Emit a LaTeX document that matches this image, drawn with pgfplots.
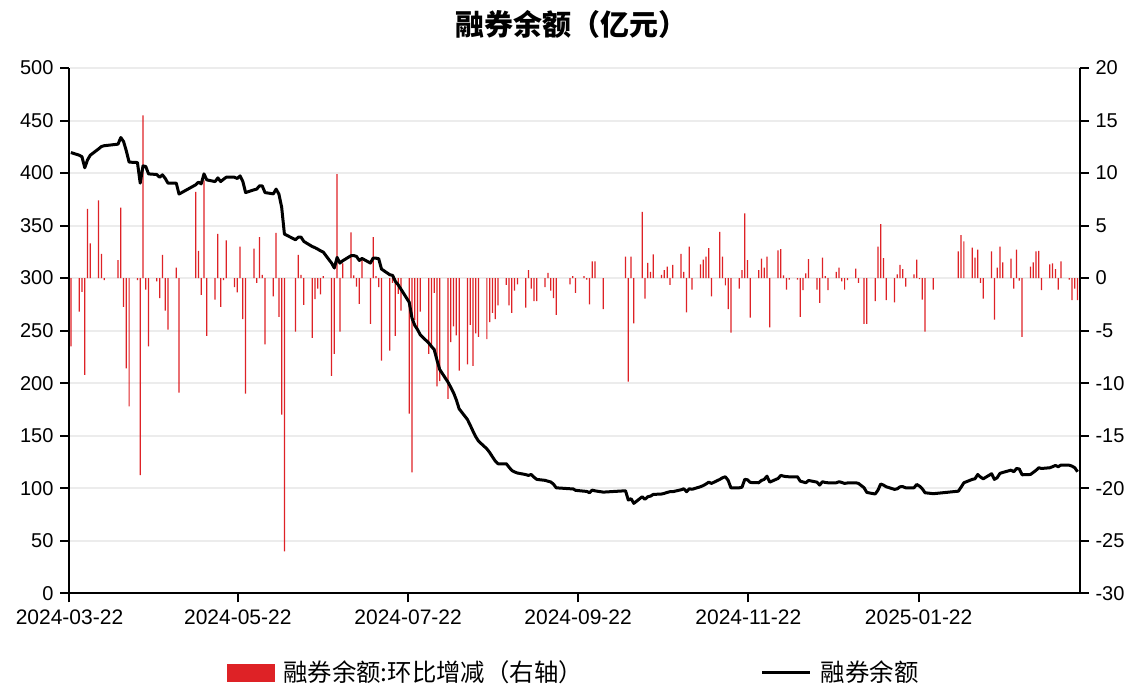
\documentclass[border=0pt]{standalone}
\usepackage{pgfplots}
\pgfplotsset{compat=1.18}
\usepackage{fontspec}
\setmainfont{Liberation Sans}
\newfontfamily\cjk{Noto Sans CJK SC}
\definecolor{barred}{RGB}{222,34,38}
\definecolor{gridgray}{RGB}{236,236,236}
\begin{document}
\begin{tikzpicture}
\useasboundingbox (-34.75pt,-47.35pt) rectangle (528.75pt,296.65pt);
% ---------- right axis: daily change (bars) ----------
\begin{axis}[
  at={(0,0)}, anchor=south west, scale only axis,
  width=505pt, height=262.65pt,
  xmin=-0.5, xmax=363.7, ymin=-30, ymax=20,
  axis y line*=right, axis x line=none, xtick=\empty,
  ytick={-30,-25,...,20},
  ymajorgrids, grid style={gridgray, line width=1pt},
  tick align=outside, major tick length=4.5pt,
  axis line style={line width=1pt},
  every tick/.style={black, line width=1pt},
  /pgf/number format/assume math mode=true,
  yticklabel style={font=\fontsize{10}{12}\selectfont},
]
\addplot[ybar, bar width=0.45, fill=barred, draw=none] coordinates {
(0,-6.5) (3,-3.2) (4,-1.3) (5,-9.2) (6,6.6) (7,3.3) (10,7.4) (11,2.3) (12,-0.2)
(17,1.7) (18,6.7) (19,-2.75) (20,-8.6) (21,-12.2) (24,-0.2) (25,-18.75) (26,15.5)
(27,-1.1) (28,-6.5) (31,-0.3) (32,-1.9) (33,2.2) (34,-3.1) (35,-4.9) (38,1.0)
(39,-10.9) (45,8.2) (46,2.6) (47,-1.6) (48,9.3) (49,-5.5) (52,-2.05) (53,4.2)
(54,-2.75) (55,-0.2) (56,3.6) (59,-0.85) (60,-1.35) (61,3.0) (62,-3.9) (63,-11.0)
(66,2.8) (67,-0.45) (68,3.9) (69,0.3) (70,-6.3) (73,-1.75) (74,4.3) (75,-3.7)
(76,-13.0) (77,-26.0) (81,-5.1) (82,2.2) (83,0.3) (84,-2.55) (87,-5.7) (88,-2.0)
(89,-1.0) (90,-1.55) (91,0.2) (94,-9.3) (95,-7.2) (96,9.9) (97,-5.1) (98,1.4)
(101,4.35) (102,0.25) (103,-0.8) (104,-2.45) (105,1.7) (108,-4.35) (109,3.9)
(110,0.2) (111,-0.85) (112,-7.85) (115,-6.9) (116,-0.45) (117,-5.5) (118,-1.5)
(119,-3.1) (122,-12.9) (123,-18.5) (124,-4.0) (125,-4.8) (126,-3.2) (129,-7.2)
(130,-6.65) (131,-1.4) (132,-10.3) (133,-9.8) (136,-11.5) (137,-6.1) (138,-4.6)
(139,-5.45) (140,-8.8) (143,-8.2) (144,-4.45) (145,-8.35) (146,-5.25) (147,-5.6)
(150,-5.8) (151,-4.2) (152,-3.3) (153,-3.9) (154,-2.6) (157,-0.65) (158,-2.6)
(159,-3.3) (160,-1.2) (161,-0.6) (164,-2.8) (165,0.75) (166,-1.0) (167,-2.2)
(168,-2.2) (171,-0.85) (172,0.5) (173,-1.2) (174,-1.9) (175,-3.5) (180,-0.6)
(181,0.2) (182,-1.4) (185,0.2) (186,-0.15) (187,-2.5) (188,1.6) (189,1.6)
(192,-2.95) (200,2.05) (201,-9.85) (202,2.05) (203,-4.3) (206,6.3) (207,-1.95)
(208,1.45) (209,0.6) (210,2.25) (213,0.3) (214,0.75) (215,1.1) (216,-0.65)
(217,1.25) (220,2.3) (221,0.6) (222,-3.25) (223,3.0) (224,-1.1) (227,1.3)
(228,1.75) (229,2.05) (230,2.85) (231,-1.75) (234,4.4) (235,2.05) (236,-0.7)
(237,-2.95) (238,-5.2) (241,-1.0) (242,0.75) (243,6.15) (244,1.7) (245,-3.75)
(248,0.75) (249,1.85) (250,1.0) (251,2.05) (252,-4.7) (255,2.65) (256,2.75)
(257,0.25) (258,-1.1) (259,-0.15) (262,-0.15) (263,-3.7) (264,-1.15) (265,0.45)
(266,1.8) (269,-1.1) (270,-2.35) (271,1.95) (272,0.2) (273,-1.15) (276,0.6)
(277,1.0) (278,-0.3) (279,-1.1) (280,-0.2) (283,0.9) (284,-0.45) (286,-4.35)
(287,-4.35) (290,-2.2) (291,3.0) (292,5.15) (293,1.9) (294,-2.1) (297,-2.3)
(298,0.35) (299,1.25) (300,0.85) (301,-0.8) (304,0.35) (305,1.75) (306,-0.1)
(307,-2.05) (308,-5.1) (311,-1.1) (320,2.55) (321,4.1) (322,3.5) (325,2.9)
(326,1.95) (327,2.7) (328,-0.45) (329,-1.95) (332,2.55) (333,-3.95) (334,1.0)
(335,3.0) (336,1.5) (339,1.85) (340,-1.0) (341,2.7) (342,-0.25) (343,-5.6)
(346,1.1) (347,1.5) (348,2.55) (349,2.6) (350,-1.15) (353,1.3) (354,1.4)
(355,0.85) (356,-1.1) (357,1.6) (360,-0.15) (361,-2.1) (362,-1.0) (363,-2.1)
};
\end{axis}
% ---------- left axis: balance (line) ----------
\begin{axis}[
  at={(0,0)}, anchor=south west, scale only axis,
  width=505pt, height=262.65pt,
  xmin=-0.5, xmax=363.7, ymin=0, ymax=500,
  axis x line*=bottom, axis y line*=left,
  ytick={0,50,...,500},
  xtick={-0.5,60.2,121.6,182.9,244.3,305.7},
  xticklabels={2024-03-22,2024-05-22,2024-07-22,2024-09-22,2024-11-22,2025-01-22},
  tick align=outside, major tick length=4.5pt,
  axis line style={line width=1pt},
  every tick/.style={black, line width=1pt},
  /pgf/number format/assume math mode=true,
  yticklabel style={font=\fontsize{10}{12}\selectfont},
  xticklabel style={font=\fontsize{10.5}{12}\selectfont},
  title={\cjk\bfseries 融券余额（亿元）},
  title style={at={(0.497,1)}, anchor=center, yshift=16pt, font=\fontsize{14.5}{16}\selectfont},
  legend columns=2,
  legend style={at={(0.5,0)}, anchor=center, yshift=-39.85pt, draw=none, fill=none,
    font=\cjk\fontsize{12.2}{14}\selectfont,
    /tikz/every odd column/.append style={column sep=2.5pt},
    /tikz/every even column/.append style={column sep=87pt}},
]
\addlegendimage{legend image code/.code={\fill[barred] (0pt,-4.25pt) rectangle (23.5pt,4.25pt);}}
\addlegendentry{融券余额:环比增减（右轴）}
\addplot[black, line width=1.5pt, line join=round,
  legend image code/.code={\draw[black, line width=1.5pt] (0pt,0pt) -- (24pt,0pt);}] coordinates {
(0,419.5) (3,417) (4,415.5) (5,405) (6,412.5) (7,417) (10,423) (11,425.2) (12,426)
(17,427.5) (18,433.8) (19,430) (20,421) (21,410.4) (24,410) (25,390.4) (26,406.8)
(27,406.2) (28,399.2) (31,398.6) (32,396) (33,398.3) (34,395) (35,390.4) (38,390.4)
(39,380) (45,388.8) (46,391.3) (47,389.7) (48,399.2) (49,393.5) (52,391.9) (53,395.4)
(54,391.9) (55,394) (56,396) (59,396) (60,394.8) (61,397.3) (62,392) (63,381.4)
(66,384) (67,384.7) (68,387.8) (69,387.8) (70,381.4) (73,380.2) (74,384.7) (75,380)
(76,367.6) (77,341.9) (81,336.5) (82,339) (83,339) (84,334.9) (87,330.1) (88,329)
(89,327.6) (90,326) (91,324.8) (94,314.3) (95,309.6) (96,319.7) (97,314.3) (98,316.5)
(101,321.3) (102,321.5) (103,320.6) (104,316.8) (105,318.7) (108,314.3) (109,319.1)
(110,319) (111,318.4) (112,308.6) (115,303.2) (116,302.6) (117,296.9) (118,293.7)
(119,289.6) (122,277) (123,262) (124,255) (125,251) (126,246) (129,238.3) (130,235)
(131,232) (132,222) (133,213) (136,200.9) (137,196) (138,190.8) (139,184) (140,175.6)
(143,165.4) (144,160) (145,154.3) (146,149) (147,144.8) (150,137.5) (151,134)
(152,130) (153,126) (154,123.3) (157,123.3) (158,120) (159,116.9) (160,115.5)
(161,114.5) (164,113) (165,112.2) (166,113.1) (167,110.5) (168,108.4) (171,107.5)
(172,106.7) (173,106) (174,104) (175,100.4) (180,99.5) (181,99.5) (182,98)
(185,97.2) (186,97) (187,95.7) (188,98.2) (189,97.5) (192,96.3) (200,97.6)
(201,88.7) (202,90) (203,85.6) (206,91.9) (207,89.4) (208,91.9) (209,92.5)
(210,94.1) (213,94.5) (214,95.1) (215,96) (216,96.7) (217,96.7) (220,98.5)
(221,99.5) (222,96.7) (223,99.5) (224,99) (227,101.4) (228,102.5) (229,104)
(230,105.8) (231,104.6) (234,108.4) (235,110) (236,110.9) (237,107.5) (238,100.4)
(241,100.4) (242,101) (243,108.5) (244,108) (245,105.5) (248,105.2) (249,107.4)
(250,108.4) (251,111.5) (252,105.8) (255,109.3) (256,112.2) (257,111.5) (258,111)
(259,110.9) (262,110.9) (263,106.7) (264,106) (265,105.2) (266,107.4) (269,105.8)
(270,103) (271,106.2) (272,105.5) (273,105.2) (276,105.2) (277,106.2) (278,105.5)
(279,104.6) (280,105) (283,105.2) (284,104.6) (286,100.5) (287,96) (290,94.5)
(291,98) (292,104) (293,103) (294,101.4) (297,98.9) (298,99.5) (299,101.4)
(300,101.5) (301,100.4) (304,100.4) (305,103.6) (306,102) (307,99.5) (308,95.7)
(311,94.8) (320,97.2) (321,101) (322,105.2) (325,108.4) (326,109) (327,113.1)
(328,110.6) (329,109) (332,113.8) (333,108.4) (334,110) (335,114.1) (336,115)
(339,117.2) (340,115.7) (341,118.8) (342,118.3) (343,112.8) (346,113.1) (347,115)
(348,117) (349,119.5) (350,118.8) (353,119.5) (354,120.5) (355,121.7) (356,120.5)
(357,122) (360,121.9) (361,121) (362,119.5) (363,115.7)
};
\addlegendentry{融券余额}
\end{axis}
\end{tikzpicture}
\end{document}
